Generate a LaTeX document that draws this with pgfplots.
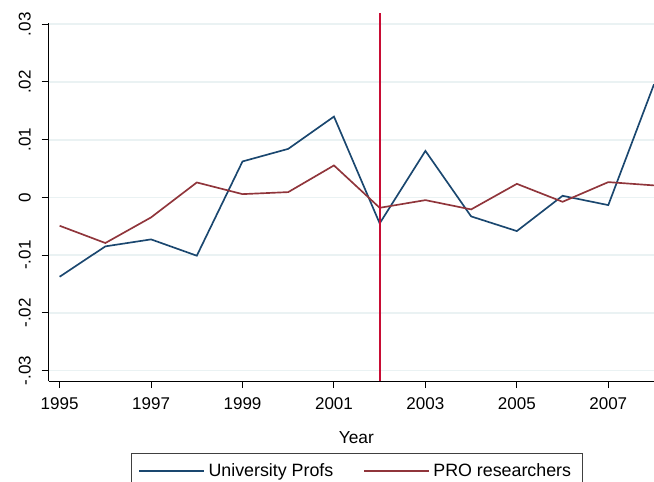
\documentclass[border=0pt]{standalone}
\usepackage{pgfplots}
\pgfplotsset{compat=1.18}
\usepackage{fontspec}
\setmainfont{Liberation Sans}
\usetikzlibrary{calc}
\definecolor{stnavy}{RGB}{26,71,111}
\definecolor{stmaroon}{RGB}{144,53,59}
\definecolor{vred}{RGB}{200,12,52}
\definecolor{gridc}{RGB}{234,242,243}
\begin{document}
\begin{tikzpicture}
\begin{axis}[
  scale only axis,
  width=363.2pt, height=221pt,
  xmin=1994.76, xmax=2008,
  ymin=-0.0318, ymax=0.0320,
  axis x line*=bottom, axis y line*=left,
  axis line style={line width=0.6pt, black},
  y axis line style={shorten >=5.9pt},
  scaled y ticks=false,
  xtick={1995,1997,1999,2001,2003,2005,2007},
  xticklabels={1995,1997,1999,2001,2003,2005,2007},
  ytick={-0.03,-0.02,-0.01,0,0.01,0.02,0.03},
  yticklabels={-.03,-.02,-.01,0,.01,.02,.03},
  tick align=outside,
  major tick length=4.2pt,
  tick style={line width=0.6pt, black},
  ymajorgrids, xmajorgrids=false,
  major grid style={gridc, line width=1pt},
  ticklabel style={font=\fontsize{10.2}{12}\selectfont},
  xticklabel shift=2.4pt,
  yticklabel shift=3pt,
  yticklabel style={rotate=90, anchor=south},
  xlabel={Year},
  xlabel style={font=\fontsize{10.4}{12}\selectfont, yshift=-6pt, xshift=3pt},
  legend style={at={(0.5085,-0.195)}, anchor=north, draw=black!75, line width=0.5pt,
    font=\fontsize{10.7}{12}\selectfont, legend columns=2,
    /tikz/every even column/.append style={column sep=16pt},
    inner xsep=4.5pt, inner ysep=4pt},
  legend cell align=left,
  legend image code/.code={\draw[#1] (0pt,0pt) -- (39pt,0pt);},
]
\addplot[stnavy, line width=1.0pt] coordinates {
(1995,-0.01374) (1996,-0.00848) (1997,-0.00727) (1998,-0.0101) (1999,0.00623)
(2000,0.00841) (2001,0.0140) (2002,-0.0045) (2003,0.00806) (2004,-0.00329)
(2005,-0.00583) (2006,0.00028) (2007,-0.00133) (2008,0.0196)};
\addlegendentry{University Profs}
\addplot[stmaroon, line width=1.0pt] coordinates {
(1995,-0.00491) (1996,-0.0079) (1997,-0.00346) (1998,0.00259) (1999,0.00057)
(2000,0.00092) (2001,0.00554) (2002,-0.0018) (2003,-0.00047) (2004,-0.00208)
(2005,0.00235) (2006,-0.00076) (2007,0.00265) (2008,0.00208)};
\addlegendentry{PRO researchers}
\addplot[vred, line width=1.2pt, forget plot] coordinates {(2002,-0.0318) (2002,0.0320)};
\end{axis}
\pgfresetboundingbox
\path[use as bounding box] ($(current axis.south west)+(-29.2pt,-60pt)$) rectangle ($(current axis.north east)+(0pt,7.6pt)$);
\end{tikzpicture}
\end{document}
